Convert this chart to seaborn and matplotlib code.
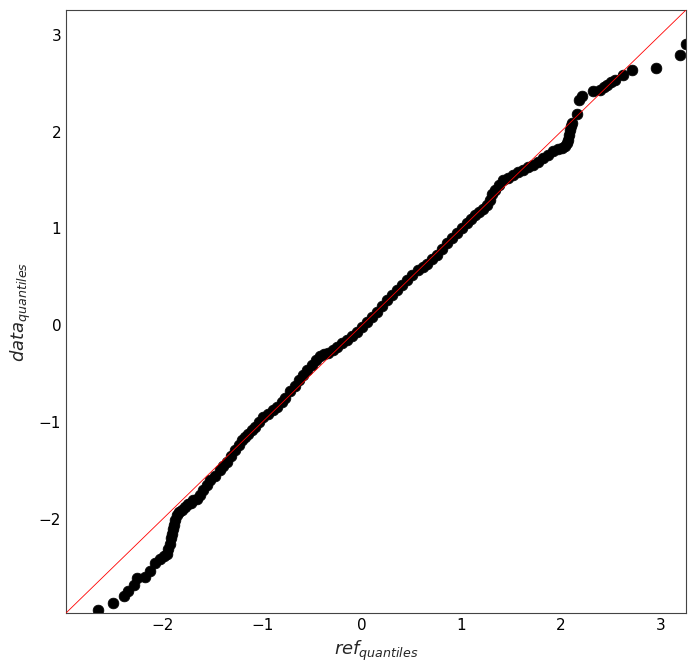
import matplotlib
matplotlib.use("Agg")
import matplotlib.pyplot as plt
import pandas as pd
import seaborn as sns

# quantile pairs (reference quantiles, data quantiles)
ref_q = [
    -2.650, -2.506, -2.389, -2.349, -2.291, -2.258, -2.181, -2.131, -2.080, -2.030,
    -1.995, -1.963, -1.945, -1.930, -1.920, -1.913, -1.900, -1.889, -1.875, -1.862,
    -1.835, -1.812, -1.780, -1.746, -1.720, -1.695, -1.661, -1.630, -1.595, -1.560,
    -1.528, -1.480, -1.427, -1.395, -1.360, -1.320, -1.276, -1.240, -1.209, -1.175,
    -1.143, -1.110, -1.075, -1.035, -0.992, -0.940, -0.891, -0.850, -0.807, -0.774,
    -0.720, -0.673, -0.630, -0.590, -0.550, -0.506, -0.465, -0.422, -0.380, -0.339,
    -0.295, -0.254, -0.205, -0.154, -0.105, -0.053, 0.000, 0.047, 0.098, 0.148,
    0.198, 0.248, 0.298, 0.349, 0.398, 0.449, 0.505, 0.566, 0.610, 0.650,
    0.700, 0.751, 0.800, 0.851, 0.900, 0.952, 1.000, 1.052, 1.095, 1.136,
    1.180, 1.219, 1.255, 1.286, 1.310, 1.337, 1.375, 1.420, 1.470, 1.521,
    1.570, 1.621, 1.670, 1.722, 1.770, 1.822, 1.870, 1.923, 1.973, 2.010,
    2.040, 2.060, 2.073, 2.082, 2.090, 2.100, 2.108, 2.164, 2.184, 2.208,
    2.319, 2.392, 2.430, 2.459, 2.500, 2.543, 2.620, 2.717, 2.955, 3.196,
    3.256,
]
data_q = [
    -2.940, -2.871, -2.795, -2.743, -2.681, -2.612, -2.606, -2.536, -2.461, -2.422,
    -2.390, -2.363, -2.310, -2.260, -2.205, -2.156, -2.110, -2.070, -2.015, -1.967,
    -1.935, -1.915, -1.880, -1.846, -1.835, -1.812, -1.800, -1.760, -1.708, -1.655,
    -1.605, -1.555, -1.501, -1.460, -1.415, -1.355, -1.294, -1.240, -1.190, -1.155,
    -1.121, -1.088, -1.053, -1.000, -0.949, -0.915, -0.880, -0.845, -0.795, -0.750,
    -0.680, -0.625, -0.570, -0.520, -0.465, -0.414, -0.360, -0.318, -0.300, -0.290,
    -0.262, -0.228, -0.190, -0.155, -0.115, -0.069, -0.018, 0.034, 0.085, 0.138,
    0.200, 0.259, 0.310, 0.362, 0.415, 0.466, 0.520, 0.569, 0.600, 0.635,
    0.680, 0.725, 0.785, 0.846, 0.900, 0.949, 1.000, 1.053, 1.100, 1.135,
    1.165, 1.200, 1.240, 1.294, 1.350, 1.398, 1.450, 1.495, 1.525, 1.553,
    1.580, 1.605, 1.630, 1.656, 1.690, 1.726, 1.760, 1.794, 1.815, 1.835,
    1.855, 1.885, 1.915, 1.965, 2.019, 2.055, 2.088, 2.181, 2.322, 2.371,
    2.415, 2.433, 2.460, 2.484, 2.510, 2.536, 2.588, 2.640, 2.657, 2.795,
    2.909,
]
axis_lim = [-2.975, 3.256]

sns.set_style("white")
plt.rcParams["font.family"] = ["DejaVu Sans"]

df = pd.DataFrame({"ref": ref_q, "data": data_q})

fig = plt.figure(figsize=(6.96, 6.72), dpi=100)
ax = fig.add_axes([66 / 696, 59 / 672, 620 / 696, 603 / 672])

sns.scatterplot(data=df, x="ref", y="data", ax=ax, color="black",
                edgecolor="black", s=60, linewidth=0.5, zorder=2)
# y = x reference line
ax.plot(axis_lim, axis_lim, color="red", linewidth=0.6, zorder=3)

ax.set_xlim(axis_lim)
ax.set_ylim(axis_lim)
ax.set_xlabel("$ref_{quantiles}$", fontsize=13)
ax.set_ylabel("$data_{quantiles}$", fontsize=13)
ax.tick_params(labelsize=11, length=0, colors="black")
for sp in ax.spines.values():
    sp.set_color("#444444")
    sp.set_linewidth(0.8)

fig.savefig("out.png", dpi=100)
